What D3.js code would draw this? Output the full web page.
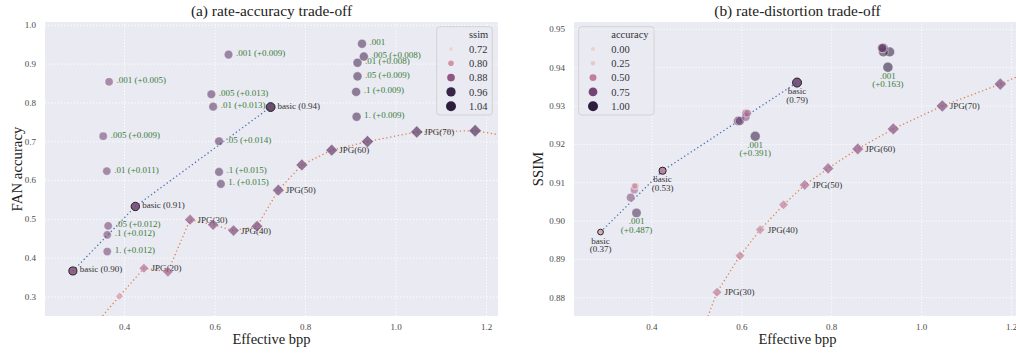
<!DOCTYPE html>
<html><head><meta charset="utf-8">
<script src="https://cdn.jsdelivr.net/npm/d3@7"></script>
<style>
body{margin:0;background:#fff}
text{font-family:"Liberation Serif","Times New Roman",serif}
</style>
</head><body>
<svg id="c" width="1016" height="354"></svg>
<script>
// ---------- data ----------
const bppTicks = [0.4, 0.6, 0.8, 1.0, 1.2];
const accTicks = [0.3, 0.4, 0.5, 0.6, 0.7, 0.8, 0.9, 1.0];
const ssimTicks = [0.88, 0.89, 0.90, 0.91, 0.92, 0.93, 0.94, 0.95];
const ssimLegend = [0.72, 0.80, 0.88, 0.96, 1.04];
const accLegend = [0.00, 0.25, 0.50, 0.75, 1.00];

// basic models
const basicBpp  = [0.287, 0.425, 0.724];
const basicAcc  = [0.366, 0.532, 0.788];
const basicSsim = [0.897, 0.913, 0.936];
const basicSsimText = ["(0.90)", "(0.91)", "(0.94)"];
const basicAccText  = ["(0.37)", "(0.53)", "(0.79)"];

// fine-tuned models (3 groups x 6 weights)
const ftName = [".001", ".005", ".01", ".05", ".1", "1.",
                ".001", ".005", ".01", ".05", ".1", "1.",
                ".001", ".005", ".01", ".05", ".1", "1."];
const ftBpp  = [0.367, 0.354, 0.362, 0.365, 0.363, 0.363,
                0.631, 0.593, 0.597, 0.610, 0.610, 0.614,
                0.926, 0.930, 0.916, 0.916, 0.913, 0.914];
const ftAcc  = [0.853, 0.713, 0.623, 0.482, 0.459, 0.416,
                0.923, 0.821, 0.789, 0.700, 0.621, 0.590,
                0.951, 0.918, 0.902, 0.867, 0.827, 0.763];
const ftSsim = [0.902, 0.906, 0.908, 0.909, 0.909, 0.909,
                0.922, 0.926, 0.926, 0.927, 0.928, 0.928,
                0.940, 0.944, 0.944, 0.945, 0.945, 0.945];
const ftSsimGain = ["(+0.005)", "(+0.009)", "(+0.011)", "(+0.012)", "(+0.012)", "(+0.012)",
                    "(+0.009)", "(+0.013)", "(+0.013)", "(+0.014)", "(+0.015)", "(+0.015)",
                    "", "(+0.008)", "(+0.008)", "(+0.009)", "(+0.009)", "(+0.009)"];
const ftAccGain  = ["(+0.487)", "", "", "", "", "",
                    "(+0.391)", "", "", "", "", "",
                    "(+0.163)", "", "", "", "", ""];

// JPEG baseline
const jpgLabel = ["", "", "JPG(20)", "", "JPG(30)", "", "JPG(40)", "", "JPG(50)", "", "JPG(60)", "", "JPG(70)", "", ""];
const jpgBpp  = [0.330, 0.390, 0.444, 0.497, 0.546, 0.597, 0.642, 0.694, 0.741, 0.793, 0.859, 0.938, 1.047, 1.176, 1.340];
const jpgAcc  = [0.220, 0.301, 0.373, 0.364, 0.498, 0.485, 0.470, 0.481, 0.574, 0.639, 0.677, 0.699, 0.724, 0.727, 0.695];
const jpgSsim = [0.740, 0.800, 0.845, 0.866, 0.8813, 0.8908, 0.8976, 0.9041, 0.9093, 0.9136, 0.9187, 0.9239, 0.9299, 0.9356, 0.944];

// ---------- build records ----------
const basic = basicBpp.map((b, i) => ({bpp: b, acc: basicAcc[i], ssim: basicSsim[i], tS: basicSsimText[i], tA: basicAccText[i]}));
const ft = ftBpp.map((b, i) => ({bpp: b, acc: ftAcc[i], ssim: ftSsim[i], name: ftName[i], gS: ftSsimGain[i], gA: ftAccGain[i]}));
const jpg = jpgBpp.map((b, i) => ({bpp: b, acc: jpgAcc[i], ssim: jpgSsim[i], label: jpgLabel[i]}));

const svg = d3.select("#c");
const pal = d3.scaleLinear().domain([0, .2, .4, .6, .8, 1])
  .range(["#edd1cb", "#daa4ac", "#bc7a98", "#945785", "#613969", "#2d1e3e"]).clamp(true);

const TOP = 22, BOT = 316;
const panels = [
  {id: "a", title: "(a) rate-accuracy trade-off", ylabel: "FAN accuracy", x0: 45, x1: 498,
   xdom: [0.2254, 1.2265], ydom: [0.25, 1.007], yTicks: accTicks, yFmt: ".1f",
   yKey: "acc", hKey: "ssim", cdom: [0.74, 0.97], sdom: [0.74, 1.0], arange: [11, 100],
   legTitle: "ssim", legVals: ssimLegend, legFmt: ".2f", legBox: [436.7, 26.7, 55.6, 88.3], ylabX: 21.5},
  {id: "b", title: "(b) rate-distortion trade-off", ylabel: "SSIM", x0: 574, x1: 1021,
   xdom: [0.228, 1.222], ydom: [0.8751, 0.9518], yTicks: ssimTicks, yFmt: ".2f",
   yKey: "ssim", hKey: "acc", cdom: [0.22, 0.951], sdom: [0.22, 0.951], arange: [16, 100],
   legTitle: "accuracy", legVals: accLegend, legFmt: ".2f", legBox: [578.7, 26.7, 75.3, 88.3], ylabX: 543}
];

panels.forEach(p => {
  const x = d3.scaleLinear().domain(p.xdom).range([p.x0, p.x1]);
  const y = d3.scaleLinear().domain(p.ydom).range([BOT, TOP]);
  const norm = d3.scaleLinear().domain(p.cdom).range([0, 1]).clamp(true);
  const area = d3.scaleLinear().domain(p.sdom).range(p.arange).clamp(true);
  const col = v => pal(norm(v));
  const rad = v => Math.sqrt(area(v)) / 2;
  const inView = d => d.bpp >= p.xdom[0] && d.bpp <= p.xdom[1] && d[p.yKey] >= p.ydom[0] && d[p.yKey] <= p.ydom[1];

  const g = svg.append("g");
  g.append("rect").attr("x", p.x0).attr("y", TOP).attr("width", p.x1 - p.x0).attr("height", BOT - TOP).attr("fill", "#eaeaf2");

  const clipId = "clip" + p.id;
  svg.append("clipPath").attr("id", clipId).append("rect")
    .attr("x", p.x0).attr("y", TOP).attr("width", p.x1 - p.x0).attr("height", BOT - TOP);

  // axes with grid
  const gx = g.append("g").attr("transform", `translate(0,${BOT})`)
    .call(d3.axisBottom(x).tickValues(bppTicks).tickFormat(d3.format(".1f")).tickSize(-(BOT - TOP)).tickPadding(8));
  const gy = g.append("g").attr("transform", `translate(${p.x0},0)`)
    .call(d3.axisLeft(y).tickValues(p.yTicks).tickFormat(d3.format(p.yFmt)).tickSize(-(p.x1 - p.x0)).tickPadding(9));
  [gx, gy].forEach(a => {
    a.select(".domain").remove();
    a.selectAll(".tick line").attr("stroke", "#fff").attr("stroke-width", 1).attr("stroke-dasharray", "1.2,2");
    a.selectAll(".tick text").attr("fill", "#4a4a4a").style("font-size", "9px").style("font-family", '"Liberation Serif",serif');
  });

  const pg = g.append("g").attr("clip-path", `url(#${clipId})`);

  // lines
  const line = d3.line().x(d => x(d.bpp)).y(d => y(d[p.yKey]));
  pg.append("path").datum(jpg).attr("d", line).attr("fill", "none")
    .attr("stroke", "#dd8452").attr("stroke-width", 1.3).attr("stroke-dasharray", "1.3,2.6");
  pg.append("path").datum(basic).attr("d", line).attr("fill", "none")
    .attr("stroke", "#4c72b0").attr("stroke-width", 1.3).attr("stroke-dasharray", "1.3,2.6");

  // labels
  const lg = pg.append("g").style("font-size", "9px");
  if (p.id === "a") {
    lg.selectAll(".bl").data(basic).join("text")
      .attr("x", d => x(d.bpp) + 7).attr("y", d => y(d.acc) + 1.5)
      .attr("fill", "#333").text(d => "basic " + d.tS);
    lg.selectAll(".fl").data(ft).join("text")
      .attr("x", d => x(d.bpp) + 7.5).attr("y", d => y(d.acc) + 1.5)
      .attr("fill", "#3b7d3b").text(d => d.gS ? d.name + " " + d.gS : d.name);
  } else {
    const bt = lg.selectAll(".bl").data(basic).join("text").attr("text-anchor", "middle").attr("fill", "#333");
    bt.append("tspan").attr("x", d => x(d.bpp)).attr("y", d => y(d.ssim) + 11.5).text("basic");
    bt.append("tspan").attr("x", d => x(d.bpp)).attr("y", d => y(d.ssim) + 20).text(d => d.tA);
    const ftl = lg.selectAll(".fl").data(ft.filter(d => d.gA)).join("text").attr("text-anchor", "middle").attr("fill", "#3b7d3b");
    ftl.append("tspan").attr("x", d => x(d.bpp)).attr("y", d => y(d.ssim) + 11.5).text(d => d.name);
    ftl.append("tspan").attr("x", d => x(d.bpp)).attr("y", d => y(d.ssim) + 20).text(d => d.gA);
  }
  lg.selectAll(".jl").data(jpg.filter(d => d.label && inView(d))).join("text")
    .attr("x", d => x(d.bpp) + 7.5).attr("y", d => y(d[p.yKey]) + 3)
    .attr("fill", "#333").text(d => d.label);

  // markers
  pg.selectAll(".jd").data(jpg).join("path")
    .attr("transform", d => `translate(${x(d.bpp)},${y(d[p.yKey])})`)
    .attr("d", d => { const h = rad(d[p.hKey]) * 1.4; return `M0,${-h}L${h},0L0,${h}L${-h},0Z`; })
    .attr("fill", d => col(d[p.hKey])).attr("fill-opacity", 0.7)
    .attr("stroke", "#fff").attr("stroke-opacity", 0.45).attr("stroke-width", 0.8);
  pg.selectAll(".fc").data(ft).join("circle")
    .attr("cx", d => x(d.bpp)).attr("cy", d => y(d[p.yKey])).attr("r", d => rad(d[p.hKey]))
    .attr("fill", d => col(d[p.hKey])).attr("fill-opacity", 0.58)
    .attr("stroke", "#fff").attr("stroke-opacity", 0.45).attr("stroke-width", 0.8);
  pg.selectAll(".bc").data(basic).join("circle")
    .attr("cx", d => x(d.bpp)).attr("cy", d => y(d[p.yKey])).attr("r", d => rad(d[p.hKey]))
    .attr("fill", d => col(d[p.hKey])).attr("fill-opacity", 0.85)
    .attr("stroke", "#222").attr("stroke-width", 1);

  // legend
  const [lx, ly, lw, lh] = p.legBox;
  const leg = g.append("g");
  leg.append("rect").attr("x", lx).attr("y", ly).attr("width", lw).attr("height", lh).attr("rx", 3)
    .attr("fill", "#eaeaf2").attr("fill-opacity", 0.8).attr("stroke", "#cccccc").attr("stroke-width", 0.8);
  const rowY = i => ly + 8 + i * 14.3;
  const textX = lx + (p.id === "a" ? 32.3 : 32.6);
  const handX = lx + 14.3;
  leg.append("text").attr("x", textX).attr("y", rowY(0)).attr("dy", "0.35em")
    .style("font-size", "10.5px").attr("fill", "#333").text(p.legTitle);
  p.legVals.forEach((v, i) => {
    leg.append("circle").attr("cx", handX).attr("cy", rowY(i + 1)).attr("r", rad(v)).attr("fill", col(v));
    leg.append("text").attr("x", textX).attr("y", rowY(i + 1)).attr("dy", "0.35em")
      .style("font-size", "10.5px").attr("fill", "#333").text(d3.format(p.legFmt)(v));
  });

  // titles
  g.append("text").attr("x", (p.x0 + p.x1) / 2).attr("y", 15.5).attr("text-anchor", "middle")
    .style("font-size", "15.4px").attr("fill", "#222").text(p.title);
  g.append("text").attr("x", (p.x0 + p.x1) / 2).attr("y", 344).attr("text-anchor", "middle")
    .style("font-size", "14.5px").attr("fill", "#222").text("Effective bpp");
  g.append("text").attr("transform", `translate(${p.ylabX},${(TOP + BOT) / 2}) rotate(-90)`).attr("text-anchor", "middle")
    .style("font-size", "14.8px").attr("fill", "#222").text(p.ylabel);
});
</script>
</body></html>
